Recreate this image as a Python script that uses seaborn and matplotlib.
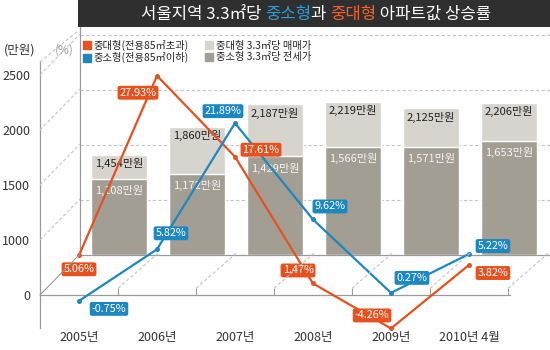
import numpy as np
import pandas as pd
import matplotlib
matplotlib.use("Agg")
import matplotlib.pyplot as plt
import seaborn as sns
from matplotlib.lines import Line2D
from matplotlib.patches import Rectangle
from matplotlib.transforms import IdentityTransform

# ---------------- data ----------------
years = ['2005년', '2006년', '2007년', '2008년', '2009년', '2010년 4월']
large_rate = [5.06, 27.93, 17.61, 1.47, -4.26, 3.82]     # 중대형 상승률 (%)
small_rate = [-0.75, 5.82, 21.89, 9.62, 0.27, 5.22]      # 중소형 상승률 (%)
sale_price = [1454, 1860, 2187, 2219, 2125, 2206]        # 중대형 3.3㎡당 매매가 (만원)
jeonse_price = [1108, 1172, 1429, 1566, 1571, 1653]      # 중소형 3.3㎡당 전세가 (만원)
money_ticks = [0, 1000, 1500, 2000, 2500]

title_parts = ['서울지역 3.3㎡당 ', '중소형', '과 ', '중대형', ' 아파트값 상승률']
legend_labels = ['중대형(전용85㎡초과)', '중소형(전용85㎡이하)',
                 '중대형 3.3㎡당 매매가', '중소형 3.3㎡당 전세가']

# ---------------- style ----------------
ORANGE = '#E8501E'
BLUE = '#1C87C0'
LIGHT = '#D7D4CE'
DARK = '#A39E94'
GRID = '#C4C4C4'
AXC = '#9A9A9A'
title_colors = ['white', '#2E9BD6', 'white', '#F2622A', 'white']

# label offsets in pixels (dx right, dy down)
orange_off = [(0, 14), (-19, 17), (26, -7), (-15, -13), (-19, -13), (24, 8)]
blue_off = [(30, 8), (14, -16), (-12, -12), (17, -13), (21, -15), (24, -8)]

sns.set_theme(style='white')
plt.rcParams['font.family'] = ['Noto Sans CJK KR', 'DejaVu Sans']
plt.rcParams['axes.unicode_minus'] = False

W, H = 550, 350
fig = plt.figure(figsize=(5.5, 3.5), dpi=100)
fig.patch.set_facecolor('white')
PT = 100 / 72.0  # px per point


def frac(x0, y0, x1, y1):
    """pixel box (top-down) -> figure fraction [l, b, w, h]"""
    return [x0 / W, 1 - y1 / H, (x1 - x0) / W, (y1 - y0) / H]


def fwd(v):
    v = np.asarray(v, dtype=float)
    return np.where(v <= 1000, v / 1000.0, 1 + (v - 1000) / 500.0)


def inv(f):
    f = np.asarray(f, dtype=float)
    return np.where(f <= 1, f * 1000.0, 1000 + (f - 1) * 500.0)


n = len(years)
idx = np.arange(n)
XL = (-0.5, 5.526)

# ---------------- back plane (bars) ----------------
ax_g = fig.add_axes(frac(80, 22, 550, 255))
ax_g.set_facecolor('none')
ax_g.set_yscale('function', functions=(fwd, inv))
ax_g.set_ylim(0, 2618)
ax_g.set_xlim(*XL)
ax_g.set_yticks(money_ticks[1:])
ax_g.grid(axis='y', ls=(0, (3, 2)), color=GRID, lw=0.8)
ax_g.grid(axis='x', visible=False)
ax_g.set_xticks(idx + 0.5)
ax_g.tick_params(axis='both', labelleft=False, labelbottom=False)
ax_g.tick_params(axis='x', direction='in', length=5, color=AXC, width=0.8, bottom=True)
ax_g.tick_params(axis='y', length=0)
for s in ['top', 'right']:
    ax_g.spines[s].set_visible(False)
for s in ['left', 'bottom']:
    ax_g.spines[s].set_color(AXC)
    ax_g.spines[s].set_linewidth(0.9)

ax_bar = ax_g.twinx()
df = pd.DataFrame({'year': years, 'sale': sale_price, 'jeonse': jeonse_price})
sns.barplot(data=df, x='year', y='sale', color=LIGHT, saturation=1, width=0.72, ax=ax_bar)
sns.barplot(data=df, x='year', y='jeonse', color=DARK, saturation=1, width=0.72, ax=ax_bar)
ax_bar.set_xlim(*XL)
ax_bar.set_ylim(0, 3378)
ax_bar.set_xlabel('')
ax_bar.set_ylabel('')
ax_bar.set_yticks([])
ax_bar.set_xticks([])
for s in ax_bar.spines.values():
    s.set_visible(False)
for i, (a, b) in enumerate(zip(sale_price, jeonse_price)):
    ax_bar.annotate(f'{a:,}만원', (i, a), xytext=(0, -2.5), textcoords='offset points',
                    ha='center', va='top', fontsize=8, color='#222222')
    ax_bar.annotate(f'{b:,}만원', (i, b), xytext=(0, -4.5), textcoords='offset points',
                    ha='center', va='top', fontsize=8, color='#F4F4F4')

# ---------------- front plane ----------------
ax_m = fig.add_axes(frac(40, 62, 510, 328))
ax_m.set_facecolor('none')
ax_m.set_yscale('function', functions=(fwd, inv))
ax_m.set_ylim(-600, 2618)
ax_m.set_xlim(*XL)
ax_m.set_yticks(money_ticks)
ax_m.set_yticklabels([str(t) for t in money_ticks])
ax_m.set_xticks(idx)
ax_m.set_xticklabels(years)
ax_m.tick_params(axis='y', length=0, pad=7, labelsize=9, labelcolor='#333333')
ax_m.tick_params(axis='x', length=0, pad=2, labelsize=9, labelcolor='#333333')
ax_m.grid(False)
for s in ['top', 'right', 'bottom']:
    ax_m.spines[s].set_visible(False)
ax_m.spines['left'].set_color(AXC)
ax_m.spines['left'].set_linewidth(0.9)

ax_p = ax_m.twinx()
ax_p.set_ylim(-4.204, 29.68)
ax_p.set_xlim(*XL)
ax_p.set_yticks([])
ax_p.grid(False)
for s in ax_p.spines.values():
    s.set_visible(False)
ax_p.axhline(0, color=AXC, lw=0.9, zorder=1)
ax_p.vlines(idx + 0.5, 0, 0.85, color=AXC, lw=0.8, zorder=1)

sns.lineplot(x=idx, y=large_rate, color=ORANGE, lw=1.6, marker='o', markersize=3.6,
             markeredgewidth=0, ax=ax_p, zorder=4)
sns.lineplot(x=idx, y=small_rate, color=BLUE, lw=1.6, marker='o', markersize=3.6,
             markeredgewidth=0, ax=ax_p, zorder=4)
for ln in ax_p.lines:
    ln.set_clip_on(False)
ax_p.set_xlim(*XL)
ax_p.set_ylim(-4.204, 29.68)
ax_p.set_xlabel('')
ax_p.set_ylabel('')

for vals, offs, col in [(large_rate, orange_off, ORANGE), (small_rate, blue_off, BLUE)]:
    for i, (v, (dx, dy)) in enumerate(zip(vals, offs)):
        ax_p.annotate(f'{v:.2f}%', (i, v), xytext=(dx / PT, -dy / PT),
                      textcoords='offset points', ha='center', va='center',
                      fontsize=7.8, color='white', zorder=6, annotation_clip=False,
                      bbox=dict(boxstyle='round,pad=0.18,rounding_size=0.2',
                                fc=col, ec='none'))

# ---------------- perspective connectors ----------------
DX, DY = 40, 41
ident = IdentityTransform()
for v in money_ticks:
    x0, y0 = ax_m.transData.transform((XL[0], v))
    fig.add_artist(Line2D([x0, x0 + DX], [y0, y0 + DY], transform=ident,
                          color=AXC if v == 0 else GRID, lw=0.8,
                          ls='-' if v == 0 else (0, (3, 2))))
for t in idx + 0.5:
    x0, y0 = ax_p.transData.transform((t, 0.85))
    fig.add_artist(Line2D([x0, x0 + DX], [y0, y0 + DY - 6], transform=ident,
                          color=GRID, lw=0.8, ls=(0, (3, 2))))
# top edge connector
x0, y0 = ax_m.transAxes.transform((0, 1))
fig.add_artist(Line2D([x0, x0 + DX - 2], [y0, y0 + DY - 10], transform=ident,
                      color=GRID, lw=0.8, ls=(0, (3, 2))))

# ---------------- title bar ----------------
fig.add_artist(Rectangle((78 / W, 1 - 27 / H), (W - 78) / W, 27 / H,
                         transform=fig.transFigure, fc='#2F2F2F', ec='none'))
renderer = fig.canvas.get_renderer()
TFS = 12


def text_w(s):
    t = fig.text(0, 0, s, fontsize=TFS)
    w = t.get_window_extent(renderer).width
    t.remove()
    return w


full = ''.join(title_parts)
wfull = text_w(full)
x_start = 316 - wfull / 2
for k, (part, col) in enumerate(zip(title_parts, title_colors)):
    prefix = ''.join(title_parts[:k + 1])
    xs = x_start + text_w(prefix) - text_w(part)
    fig.text(xs / W, 1 - 14 / H, part, fontsize=TFS, color=col, ha='left', va='center',
             fontweight='medium')

# ---------------- unit labels ----------------
fig.text(20 / W, 1 - 50 / H, '(만원)', fontsize=9, color='#333333', ha='center', va='center')
fig.text(64 / W, 1 - 50 / H, '(%)', fontsize=8.5, color='#A0A0A0', ha='center', va='center')

# ---------------- legend ----------------
handles = [Line2D([], [], ls='none', marker='s', markersize=5.5, color=c)
           for c in [ORANGE, BLUE, LIGHT, DARK]]
fig.legend(handles, legend_labels, loc='upper left', bbox_to_anchor=(83 / W, 1 - 40 / H),
           ncol=2, frameon=False, fontsize=7.4, handlelength=0.7, handletextpad=0.35,
           columnspacing=1.6, labelspacing=0.1, borderpad=0, borderaxespad=0)

fig.savefig('out.png', dpi=100)
